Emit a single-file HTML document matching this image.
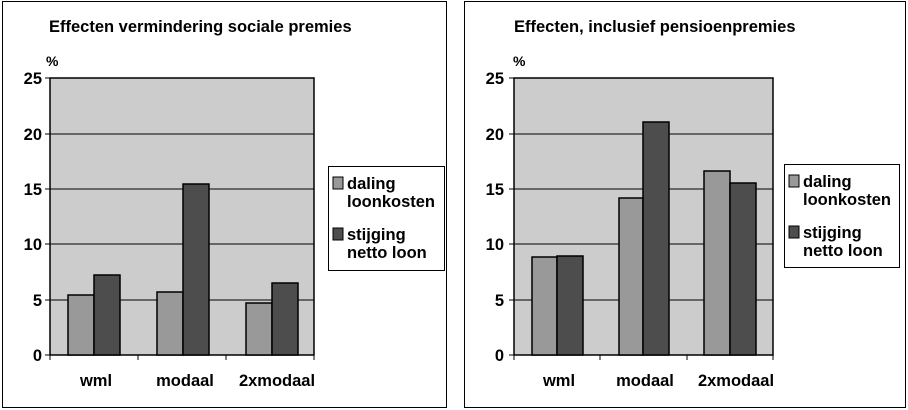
<!DOCTYPE html>
<html><head><style>
body{margin:0;background:#fff}
svg{display:block}
text{font-family:"Liberation Sans",Arial,sans-serif;font-weight:bold;fill:#000}
</style></head><body>
<svg width="908" height="410" viewBox="0 0 908 410">
<!-- LEFT -->
<rect x="2.5" y="1.5" width="444" height="406" fill="#fff" stroke="#000"/>
<text x="49" y="32" font-size="16.5">Effecten vermindering sociale premies</text>
<text x="46" y="66" font-size="14">%</text>
<rect x="50" y="78" width="264" height="277" fill="#cccccc" stroke="#000" stroke-width="1.5"/>
<g stroke="#000" stroke-width="1">
<line x1="50" y1="134" x2="314" y2="134"/><line x1="50" y1="189" x2="314" y2="189"/>
<line x1="50" y1="244" x2="314" y2="244"/><line x1="50" y1="300" x2="314" y2="300"/>
<line x1="45" y1="78" x2="50" y2="78"/><line x1="45" y1="134" x2="50" y2="134"/><line x1="45" y1="189" x2="50" y2="189"/><line x1="45" y1="244" x2="50" y2="244"/><line x1="45" y1="300" x2="50" y2="300"/><line x1="45" y1="355" x2="50" y2="355"/>
<line x1="50" y1="355" x2="50" y2="360"/><line x1="138" y1="355" x2="138" y2="360"/><line x1="226" y1="355" x2="226" y2="360"/><line x1="314" y1="355" x2="314" y2="360"/>
</g>
<g stroke="#000" stroke-width="1.5">
<rect x="68" y="295" width="26" height="60" fill="#999"/>
<rect x="94" y="275" width="26" height="80" fill="#4d4d4d"/>
<rect x="157" y="292" width="26" height="63" fill="#999"/>
<rect x="183" y="184" width="26" height="171" fill="#4d4d4d"/>
<rect x="246" y="303" width="26" height="52" fill="#999"/>
<rect x="272" y="283" width="26" height="72" fill="#4d4d4d"/>
</g>
<g font-size="16.5" text-anchor="end">
<text x="42" y="84">25</text><text x="42" y="140">20</text><text x="42" y="195">15</text><text x="42" y="250">10</text><text x="42" y="306">5</text><text x="42" y="361">0</text>
</g>
<g font-size="16.5" text-anchor="middle">
<text x="96" y="386">wml</text><text x="185" y="386">modaal</text><text x="277" y="386">2xmodaal</text>
</g>
<rect x="328.5" y="166.5" width="116" height="104" fill="#fff" stroke="#000"/>
<rect x="333" y="177" width="10" height="12" fill="#999" stroke="#000"/>
<rect x="333" y="228" width="10" height="12" fill="#4d4d4d" stroke="#000"/>
<g font-size="16.5"><text x="347" y="189">daling</text><text x="347" y="207">loonkosten</text><text x="347" y="240">stijging</text><text x="347" y="258">netto loon</text></g>

<!-- RIGHT -->
<rect x="464.5" y="1.5" width="441" height="406" fill="#fff" stroke="#000"/>
<text x="514" y="32" font-size="16.5">Effecten, inclusief pensioenpremies</text>
<text x="513" y="66" font-size="14">%</text>
<rect x="514" y="78" width="259" height="277" fill="#cccccc" stroke="#000" stroke-width="1.5"/>
<g stroke="#000" stroke-width="1">
<line x1="514" y1="134" x2="773" y2="134"/><line x1="514" y1="189" x2="773" y2="189"/>
<line x1="514" y1="244" x2="773" y2="244"/><line x1="514" y1="300" x2="773" y2="300"/>
<line x1="509" y1="78" x2="514" y2="78"/><line x1="509" y1="134" x2="514" y2="134"/><line x1="509" y1="189" x2="514" y2="189"/><line x1="509" y1="244" x2="514" y2="244"/><line x1="509" y1="300" x2="514" y2="300"/><line x1="509" y1="355" x2="514" y2="355"/>
<line x1="514" y1="355" x2="514" y2="360"/><line x1="600" y1="355" x2="600" y2="360"/><line x1="687" y1="355" x2="687" y2="360"/><line x1="773" y1="355" x2="773" y2="360"/>
</g>
<g stroke="#000" stroke-width="1.5">
<rect x="532" y="257" width="25" height="98" fill="#999"/>
<rect x="557" y="256" width="26" height="99" fill="#4d4d4d"/>
<rect x="619" y="198" width="24" height="157" fill="#999"/>
<rect x="643" y="122" width="26" height="233" fill="#4d4d4d"/>
<rect x="704" y="171" width="26" height="184" fill="#999"/>
<rect x="730" y="183" width="26" height="172" fill="#4d4d4d"/>
</g>
<g font-size="16.5" text-anchor="end">
<text x="504" y="84">25</text><text x="504" y="140">20</text><text x="504" y="195">15</text><text x="504" y="250">10</text><text x="504" y="306">5</text><text x="504" y="361">0</text>
</g>
<g font-size="16.5" text-anchor="middle">
<text x="559" y="386">wml</text><text x="645" y="386">modaal</text><text x="736" y="386">2xmodaal</text>
</g>
<rect x="784.5" y="164.5" width="115" height="103" fill="#fff" stroke="#000"/>
<rect x="789" y="175" width="10" height="12" fill="#999" stroke="#000"/>
<rect x="789" y="226" width="10" height="12" fill="#4d4d4d" stroke="#000"/>
<g font-size="16.5"><text x="803" y="187">daling</text><text x="803" y="205">loonkosten</text><text x="803" y="238">stijging</text><text x="803" y="256">netto loon</text></g>
</svg>
</body></html>
